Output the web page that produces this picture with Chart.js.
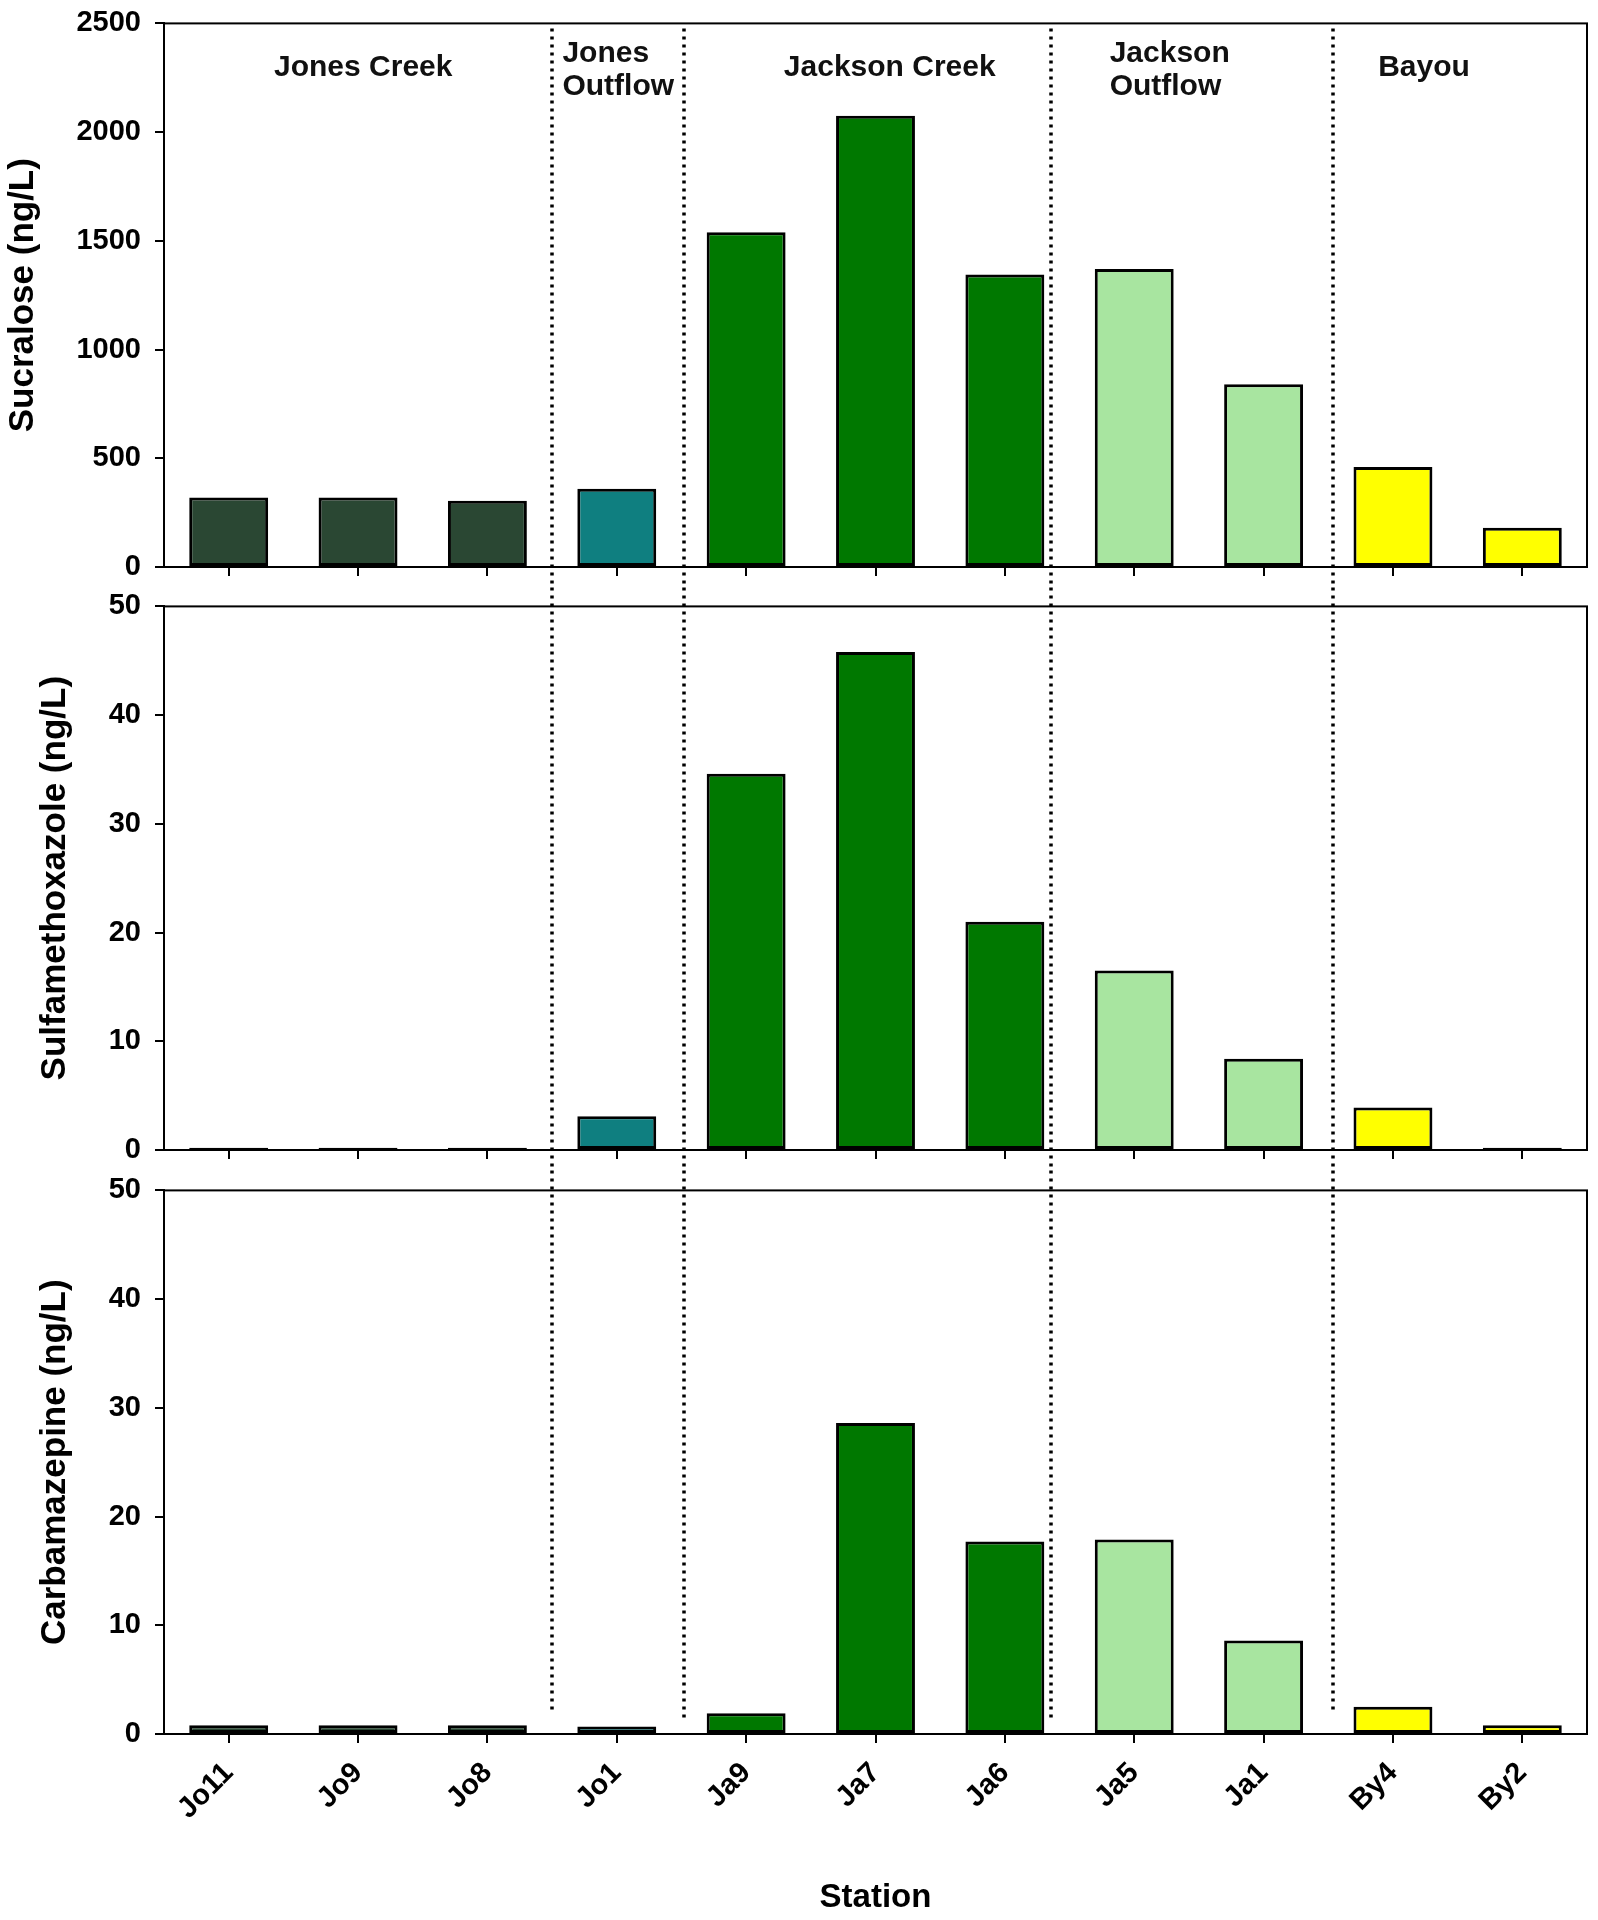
<!DOCTYPE html>
<html>
<head>
<meta charset="utf-8">
<script src="https://cdn.jsdelivr.net/npm/chart.js"></script>
<style>
    body { margin: 0; background: #fff; overflow: hidden; }
    #wrap { position: relative; width: 1598px; height: 1920px; overflow: hidden; }
    #wrap canvas { position: absolute; left: 0; }
</style>
</head>
<body>
<div id="wrap">
    <canvas id="sucraloseChart" width="1598" height="616" style="top:-8px"></canvas>
    <canvas id="sulfaChart" width="1598" height="613" style="top:575px"></canvas>
    <canvas id="carbaChart" width="1598" height="761" style="top:1159px"></canvas>
</div>
<script>
// Stations along the x axis
const stations = ['Jo11', 'Jo9', 'Jo8', 'Jo1', 'Ja9', 'Ja7', 'Ja6', 'Ja5', 'Ja1', 'By4', 'By2'];
// reach each station belongs to (index into groupNames)
const stationGroup = [0, 0, 0, 1, 2, 2, 2, 3, 3, 4, 4];
const groupNames = [['Jones Creek'], ['Jones', 'Outflow'], ['Jackson Creek'], ['Jackson', 'Outflow'], ['Bayou']];

// concentrations, ng/L
const sucralose = [320, 320, 305, 360, 1540, 2075, 1345, 1370, 840, 460, 180];
const sulfamethoxazole = [0.2, 0.2, 0.2, 3.1, 34.6, 45.8, 21.0, 16.5, 8.4, 3.9, 0.2];
const carbamazepine = [0.8, 0.8, 0.8, 0.7, 1.9, 28.6, 17.7, 17.9, 8.6, 2.5, 0.8];

// y tick labels
const sucraloseTicks = [0, 500, 1000, 1500, 2000, 2500];
const ngTicks = [0, 10, 20, 30, 40, 50];

// dotted dividers between reaches (in category units) and where they stop in the last panel
const dividerAt = [2.5, 3.52, 6.36, 8.54];
const dividerStopCarba = [2.0, 1.1, 1.1, 2.0];
// where the reach names sit (category units) and how they are aligned
const groupLabelAt = [1.04, 2.58, 5.11, 6.81, 9.24];
const groupLabelAlign = ['center', 'left', 'center', 'left', 'center'];

const groupColors = ['#2a4733', '#0f7f80', '#007800', '#a8e5a0', '#ffff00'];
const FONT = "'Liberation Sans', Arial, sans-serif";

Chart.defaults.color = '#000';
Chart.defaults.font.family = FONT;

// dotted dividers, plot frame and reach names
const panelDecor = {
    id: 'panelDecor',
    beforeDatasetsDraw(chart, args, opts) {
        const {ctx, chartArea: a, scales: {x, y}} = chart;
        ctx.save();
        ctx.strokeStyle = '#000';
        ctx.lineWidth = 3.5;
        ctx.setLineDash([3, 5]);
        dividerAt.forEach((p, i) => {
            const px = Math.round(x.getPixelForValue(p));
            const y0 = a.top - opts.above;
            const y1 = opts.stops ? y.getPixelForValue(opts.stops[i]) : a.bottom + opts.below;
            ctx.beginPath();
            ctx.moveTo(px, y0);
            ctx.lineTo(px, y1);
            ctx.stroke();
        });
        ctx.restore();
    },
    afterDatasetsDraw(chart, args, opts) {
        const {ctx, chartArea: a, scales: {x}} = chart;
        ctx.save();
        ctx.strokeStyle = '#000';
        ctx.lineWidth = 2;
        ctx.strokeRect(a.left, a.top, a.right - a.left, a.bottom - a.top);

        if (opts.groupLabels) {
            ctx.fillStyle = '#111';
            ctx.font = 'bold 30px ' + FONT;
            ctx.textBaseline = 'middle';
            groupNames.forEach((lines, g) => {
                const gx = x.getPixelForValue(groupLabelAt[g]);
                ctx.textAlign = groupLabelAlign[g];
                if (lines.length === 1) {
                    ctx.fillText(lines[0], gx, a.top + 44);
                } else {
                    ctx.fillText(lines[0], gx, a.top + 30);
                    ctx.fillText(lines[1], gx, a.top + 63);
                }
            });
        }
        ctx.restore();
    }
};

function makePanel(canvasId, values, ticks, title, cfg) {
    return new Chart(document.getElementById(canvasId), {
        type: 'bar',
        data: {
            labels: stations,
            datasets: [{
                data: values,
                backgroundColor: stationGroup.map(g => groupColors[g]),
                borderColor: '#000',
                borderWidth: 3,
                borderSkipped: false,
                barPercentage: 0.61,
                categoryPercentage: 1.0
            }]
        },
        options: {
            responsive: false,
            animation: false,
            events: [],
            layout: { padding: { top: 0, right: 11, left: 0, bottom: 0 } },
            plugins: {
                legend: { display: false },
                tooltip: { enabled: false },
                panelDecor: cfg.decor
            },
            scales: {
                x: {
                    offset: true,
                    grid: { display: true, offset: false, drawOnChartArea: false, drawTicks: true,
                            tickLength: 9, color: '#000', lineWidth: 2 },
                    border: { display: true, color: '#000', width: 2 },
                    ticks: {
                        display: cfg.showStations,
                        autoSkip: false,
                        maxRotation: 45,
                        minRotation: 45,
                        padding: 13,
                        font: { size: 29, weight: 'bold' }
                    },
                    title: {
                        display: cfg.showStations,
                        text: 'Station',
                        font: { size: 33, weight: 'bold' },
                        padding: { top: 0, bottom: 2 }
                    },
                    afterFit: s => { s.height = cfg.axisHeight; }
                },
                y: {
                    min: ticks[0],
                    max: ticks[ticks.length - 1],
                    afterBuildTicks: s => { s.ticks = ticks.map(v => ({ value: v })); },
                    grid: { display: true, drawOnChartArea: false, drawTicks: true,
                            tickLength: 9, color: '#000', lineWidth: 2 },
                    border: { display: true, color: '#000', width: 2 },
                    ticks: { padding: 14, font: { size: 29, weight: 'bold' }, callback: v => String(v) },
                    title: {
                        display: true,
                        text: title,
                        font: { size: 35, weight: 'bold' },
                        padding: { top: cfg.titlePad, bottom: 0 }
                    },
                    afterFit: s => { s.width = 164; }
                }
            }
        },
        plugins: [panelDecor]
    });
}

makePanel('sucraloseChart', sucralose, sucraloseTicks, 'Sucralose (ng/L)', {
    axisHeight: 41, titlePad: 2, showStations: false,
    decor: { above: -5, below: 18, groupLabels: true }
});
makePanel('sulfaChart', sulfamethoxazole, ngTicks, 'Sulfamethoxazole (ng/L)', {
    axisHeight: 38, titlePad: 34, showStations: false,
    decor: { above: 19, below: 19 }
});
makePanel('carbaChart', carbamazepine, ngTicks, 'Carbamazepine (ng/L)', {
    axisHeight: 186, titlePad: 34, showStations: true,
    decor: { above: 20, stops: dividerStopCarba }
});
</script>
</body>
</html>
